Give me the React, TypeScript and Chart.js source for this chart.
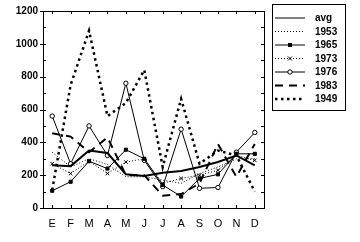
import React, { useEffect, useRef } from "react";
import { Chart, registerables } from "chart.js";

Chart.register(...registerables);

const months = ["E", "F", "M", "A", "M", "J", "J", "A", "S", "O", "N", "D"];
const yTicks = [0, 200, 400, 600, 800, 1000, 1200];

const avg = [260, 255, 350, 335, 205, 195, 215, 225, 250, 280, 320, 260];
const s1953 = [340, 250, 300, 265, 190, 190, 170, 150, 210, 250, 300, 300];
const s1965 = [105, 160, 285, 240, 355, 300, 140, 70, 180, 205, 330, 330];
const s1973 = [270, 210, 285, 210, 280, 300, 150, 180, 200, 230, 320, 290];
const s1976 = [560, 270, 500, 320, 760, 290, 130, 480, 120, 125, 340, 460];
const s1983 = [455, 435, 340, 430, 200, 200, 75, 85, 150, 390, 190, 390];
const s1949 = [110, 750, 1080, 560, 640, 840, 250, 665, 270, 350, 320, 100];

const FONT = "'Liberation Sans', Arial, sans-serif";

const framePlugin = {
  id: "frame",
  afterDatasetsDraw(chart: any) {
    const { ctx, chartArea: a, scales } = chart;
    ctx.save();
    ctx.strokeStyle = "#000";
    ctx.lineWidth = 1;
    ctx.strokeRect(Math.round(a.left) + 0.5, Math.round(a.top) + 0.5, Math.round(a.right - a.left), Math.round(a.bottom - a.top));
    const y = scales.y;
    const x = scales.x;
    ctx.beginPath();
    for (let v = 0; v <= 1200; v += 100) {
      const py = Math.round(y.getPixelForValue(v)) + 0.5;
      ctx.moveTo(a.left, py);
      ctx.lineTo(a.left + 3, py);
      ctx.moveTo(a.right, py);
      ctx.lineTo(a.right - 3, py);
    }
    for (const v of yTicks) {
      const py = Math.round(y.getPixelForValue(v)) + 0.5;
      ctx.moveTo(a.left, py);
      ctx.lineTo(a.left - 3, py);
    }
    for (let i = 0; i < months.length; i++) {
      const px = Math.round(x.getPixelForValue(i)) + 0.5;
      ctx.moveTo(px, a.top);
      ctx.lineTo(px, a.top + 3);
      ctx.moveTo(px, a.bottom);
      ctx.lineTo(px, a.bottom - 3);
    }
    ctx.stroke();
    ctx.restore();
  },
};

const legendPlugin = {
  id: "customLegend",
  afterDraw(chart: any) {
    const { ctx } = chart;
    const bx = 272, by = 4, bw = 73, bh = 106;
    ctx.save();
    ctx.fillStyle = "#fff";
    ctx.fillRect(bx, by, bw, bh);
    ctx.strokeStyle = "#000";
    ctx.lineWidth = 1;
    ctx.strokeRect(bx + 0.5, by + 0.5, bw, bh);
    chart.data.datasets.forEach((ds: any, i: number) => {
      const cy = 18 + i * 13.5;
      const x0 = 275, x1 = 305;
      ctx.save();
      ctx.strokeStyle = "#000";
      ctx.lineWidth = ds.label === "avg" ? 1 : ds.borderWidth;
      ctx.setLineDash(ds.borderDash || []);
      ctx.beginPath();
      ctx.moveTo(x0, cy);
      ctx.lineTo(x1, cy);
      ctx.stroke();
      ctx.setLineDash([]);
      const mx = (x0 + x1) / 2;
      if (ds.pointStyle === "rect" && ds.pointRadius > 0) {
        ctx.fillStyle = "#000";
        ctx.fillRect(mx - 2, cy - 2, 4, 4);
      } else if (ds.pointStyle === "crossRot" && ds.pointRadius > 0) {
        ctx.lineWidth = 1;
        ctx.beginPath();
        ctx.moveTo(mx - 2, cy - 2); ctx.lineTo(mx + 2, cy + 2);
        ctx.moveTo(mx - 2, cy + 2); ctx.lineTo(mx + 2, cy - 2);
        ctx.stroke();
      } else if (ds.pointStyle === "circle" && ds.pointRadius > 0) {
        ctx.lineWidth = 1;
        ctx.fillStyle = "#fff";
        ctx.beginPath();
        ctx.arc(mx, cy, 2.2, 0, Math.PI * 2);
        ctx.fill();
        ctx.stroke();
      }
      ctx.restore();
      ctx.fillStyle = "#000";
      ctx.font = `bold 10px ${FONT}`;
      ctx.textBaseline = "middle";
      ctx.textAlign = "left";
      ctx.fillText(ds.label, 315, cy + 0.5);
    });
    ctx.restore();
  },
};

export default function App() {
  const ref = useRef<HTMLCanvasElement | null>(null);
  useEffect(() => {
    if (!ref.current) return;
    const base = { fill: false, borderColor: "#000", backgroundColor: "#000", tension: 0, pointRadius: 0, pointStyle: "circle" };
    const chart = new Chart(ref.current, {
      type: "line",
      data: {
        labels: months,
        datasets: [
          { ...base, label: "avg", data: avg, borderWidth: 2 },
          { ...base, label: "1953", data: s1953, borderWidth: 1, borderDash: [1, 2] },
          { ...base, label: "1965", data: s1965, borderWidth: 1, pointStyle: "rect", pointRadius: 2.2 },
          { ...base, label: "1973", data: s1973, borderWidth: 1, borderDash: [1, 2], pointStyle: "crossRot", pointRadius: 2.5, pointBorderWidth: 1 },
          { ...base, label: "1976", data: s1976, borderWidth: 1, pointStyle: "circle", pointRadius: 2.2, pointBackgroundColor: "#fff", pointBorderWidth: 1 },
          { ...base, label: "1983", data: s1983, borderWidth: 2, borderDash: [8, 6] },
          { ...base, label: "1949", data: s1949, borderWidth: 2.5, borderDash: [2.5, 3.5] },
        ] as any,
      },
      options: {
        responsive: false,
        animation: false,
        layout: { padding: { left: 0, top: 9, right: 96, bottom: 0 } },
        plugins: { legend: { display: false }, tooltip: { enabled: false } },
        scales: {
          x: {
            offset: true,
            grid: { display: false, drawTicks: false },
            border: { display: true, color: "#000" },
            ticks: { color: "#000", padding: 9, font: { family: FONT, size: 11 }, autoSkip: false, maxRotation: 0 },
            afterFit: (s: any) => { s.height = 34; },
          },
          y: {
            min: 0,
            max: 1200,
            grid: { display: false, drawTicks: false },
            border: { display: true, color: "#000" },
            ticks: { color: "#000", stepSize: 200, padding: 5, font: { family: FONT, size: 10, weight: "bold" }, callback: (v: any) => String(v) },
            afterFit: (s: any) => { s.width = 43; },
          },
        },
      },
      plugins: [framePlugin, legendPlugin],
    });
    return () => chart.destroy();
  }, []);
  return (
    <div style={{ position: "fixed", left: 0, top: 0, width: 360, height: 242, background: "#fff" }}>
      <canvas ref={ref} width={360} height={242} style={{ display: "block" }} />
    </div>
  );
}
